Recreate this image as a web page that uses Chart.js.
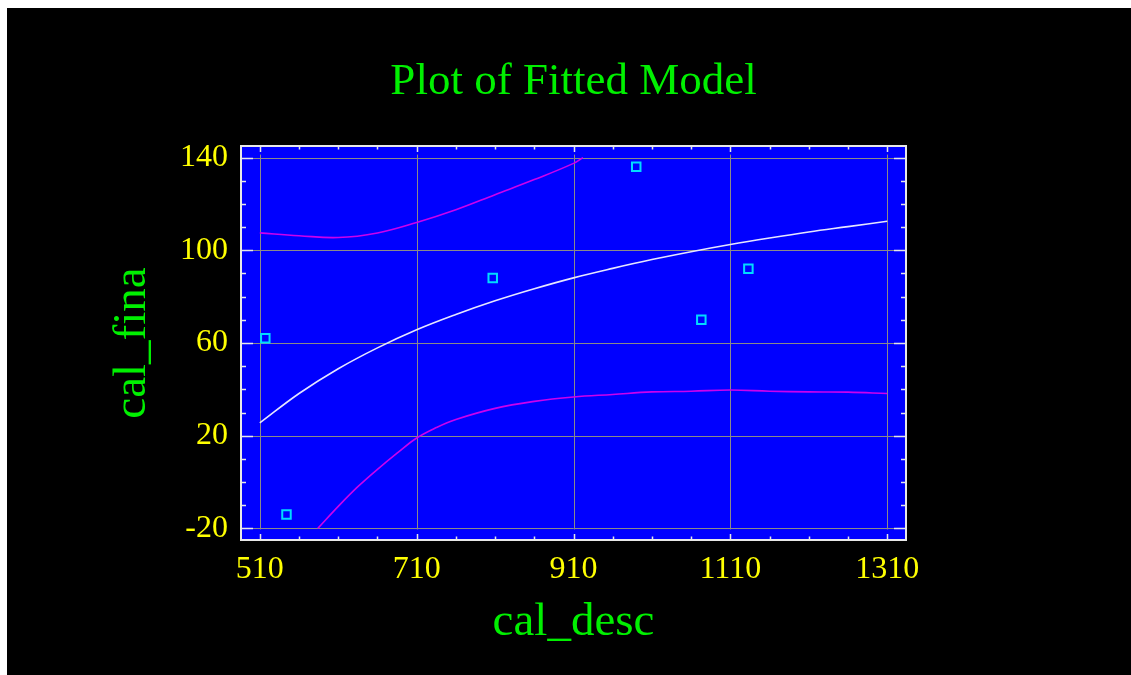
<!DOCTYPE html>
<html>
<head>
<meta charset="utf-8">
<title>Plot of Fitted Model</title>
<script src="https://cdn.jsdelivr.net/npm/chart.js@4.4.0/dist/chart.umd.min.js"></script>
<style>
    html, body { margin: 0; padding: 0; background: #ffffff; }
    #wrap { position: absolute; left: 7px; top: 8px; width: 1124px; height: 667px; background: #000000; }
    canvas { display: block; }
</style>
</head>
<body>
<div id="wrap"><canvas id="fitChart" width="1124" height="667"></canvas></div>
<script>
// Values
const curveX = [510, 560, 610, 660, 710, 760, 810, 860, 910, 960, 1010, 1060, 1110, 1160, 1210, 1260, 1310];
const fittedY = [25.5, 38.2, 48.9, 57.9, 65.7, 72.3, 78.2, 83.4, 88.1, 92.2, 96.0, 99.4, 102.5, 105.3, 107.9, 110.2, 112.5];

const upperX = [510, 560, 610, 660, 710, 760, 810, 860, 910, 922];
const upperY = [107.5, 106.3, 105.5, 107.5, 112, 117.5, 124, 130.5, 137.5, 140];

const lowerX = [584, 610, 635, 660, 685, 710, 735, 760, 810, 860, 910, 960, 1010, 1060, 1110, 1160, 1210, 1260, 1310];
const lowerY = [-20, -10.5, -2, 5.5, 12.5, 19, 23.5, 27, 31.8, 34.8, 36.7, 37.8, 38.9, 39.2, 39.7, 39.2, 38.9, 38.8, 38.2];

const obsX = [517, 544, 807, 990, 1073, 1133];
const obsY = [62, -14, 88, 136, 70, 92];

// Tick values
const xMajorTicks = [510, 710, 910, 1110, 1310];
const yMajorTicks = [-20, 20, 60, 100, 140];
const xMinorTicks = [510, 560, 610, 660, 710, 760, 810, 860, 910, 960, 1010, 1060, 1110, 1160, 1210, 1260, 1310];
const yMinorTicks = [-20, -10, 0, 10, 20, 30, 40, 50, 60, 70, 80, 90, 100, 110, 120, 130, 140];

const serif = '"Liberation Serif", "Times New Roman", serif';
const toPoints = (xs, ys) => xs.map((x, i) => ({ x: x, y: ys[i] }));

// blue plot area, gray grid, inward tick marks, light frame
const plotFrame = {
    id: 'plotFrame',
    beforeDatasetsDraw(chart) {
        const { ctx, chartArea: a, scales: { x, y } } = chart;
        ctx.save();
        ctx.fillStyle = '#0000ff';
        ctx.fillRect(a.left, a.top, a.right - a.left, a.bottom - a.top);

        // grid lines at major ticks
        ctx.strokeStyle = '#8a8a8a';
        ctx.lineWidth = 1;
        const gTop = y.getPixelForValue(yMajorTicks[yMajorTicks.length - 1]) - 3;
        const gBot = y.getPixelForValue(yMajorTicks[0]) + 1;
        xMajorTicks.forEach((v) => {
            const px = Math.round(x.getPixelForValue(v)) + 0.5;
            ctx.beginPath(); ctx.moveTo(px, gTop); ctx.lineTo(px, gBot); ctx.stroke();
        });
        yMajorTicks.forEach((v) => {
            const py = Math.round(y.getPixelForValue(v)) + 0.5;
            ctx.beginPath(); ctx.moveTo(a.left, py); ctx.lineTo(a.right, py); ctx.stroke();
        });

        // tick marks pointing inward on all four sides
        ctx.strokeStyle = '#e6e6e6';
        ctx.lineWidth = 1.5;
        xMinorTicks.forEach((v) => {
            const px = Math.round(x.getPixelForValue(v)) + 0.5;
            const len = xMajorTicks.includes(v) ? 6 : 3.5;
            ctx.beginPath();
            ctx.moveTo(px, a.bottom); ctx.lineTo(px, a.bottom - len);
            ctx.moveTo(px, a.top); ctx.lineTo(px, a.top + len);
            ctx.stroke();
        });
        yMinorTicks.forEach((v) => {
            const py = Math.round(y.getPixelForValue(v)) + 0.5;
            const len = yMajorTicks.includes(v) ? 12 : 5;
            ctx.beginPath();
            ctx.moveTo(a.left, py); ctx.lineTo(a.left + len, py);
            ctx.moveTo(a.right, py); ctx.lineTo(a.right - len, py);
            ctx.stroke();
        });

        ctx.strokeStyle = '#e8e8e8';
        ctx.lineWidth = 2;
        ctx.strokeRect(a.left, a.top, a.right - a.left, a.bottom - a.top);
        ctx.restore();
    }
};

const ctx = document.getElementById('fitChart').getContext('2d');
const fitChart = new Chart(ctx, {
    type: 'scatter',
    data: {
        datasets: [
            {
                label: 'upper',
                data: toPoints(upperX, upperY),
                showLine: true,
                borderColor: '#cc00ee',
                borderWidth: 1.6,
                pointRadius: 0,
                tension: 0.4,
            },
            {
                label: 'lower',
                data: toPoints(lowerX, lowerY),
                showLine: true,
                borderColor: '#cc00ee',
                borderWidth: 1.6,
                pointRadius: 0,
                tension: 0.4,
            },
            {
                label: 'fitted',
                data: toPoints(curveX, fittedY),
                showLine: true,
                borderColor: '#e6e6ff',
                borderWidth: 1.6,
                pointRadius: 0,
                tension: 0.4,
            },
            {
                label: 'observed',
                data: toPoints(obsX, obsY),
                showLine: false,
                pointStyle: 'rect',
                pointRadius: 6,
                borderWidth: 2,
                borderColor: '#00dcff',
                backgroundColor: 'rgba(0,0,0,0)',
            },
        ]
    },
    options: {
        responsive: false,
        animation: false,
        layout: { padding: { left: 0, right: 225, top: 0, bottom: 0 } },
        scales: {
            x: {
                type: 'linear',
                min: 486,
                max: 1334,
                afterBuildTicks: (scale) => { scale.ticks = xMajorTicks.map((v) => ({ value: v })); },
                afterFit: (scale) => { scale.height = 135; },
                grid: { display: false, drawTicks: false },
                border: { display: false },
                ticks: {
                    color: '#ffff00',
                    font: { family: serif, size: 32 },
                    padding: 10,
                    maxRotation: 0,
                    autoSkip: false,
                    callback: (value) => String(value),
                },
                title: {
                    display: true,
                    text: 'cal_desc',
                    color: '#00f000',
                    font: { family: serif, size: 47 },
                    padding: { top: 0, bottom: 24 },
                },
            },
            y: {
                type: 'linear',
                min: -25,
                max: 145,
                afterBuildTicks: (scale) => { scale.ticks = yMajorTicks.map((v) => ({ value: v })); },
                afterFit: (scale) => { scale.width = 234; },
                grid: { display: false, drawTicks: false },
                border: { display: false },
                ticks: {
                    color: '#ffff00',
                    font: { family: serif, size: 32 },
                    padding: 13,
                    autoSkip: false,
                    callback: (value) => String(value),
                },
                title: {
                    display: true,
                    text: 'cal_fina',
                    color: '#00f000',
                    font: { family: serif, size: 47 },
                    padding: { top: 97, bottom: 0 },
                },
            },
        },
        plugins: {
            legend: { display: false },
            tooltip: { enabled: false },
            title: {
                display: true,
                text: 'Plot of Fitted Model',
                color: '#00f000',
                fullSize: false,
                font: { family: serif, size: 45, weight: 'normal' },
                padding: { top: 47, bottom: 37 },
            },
        },
    },
    plugins: [plotFrame],
});
</script>
</body>
</html>
